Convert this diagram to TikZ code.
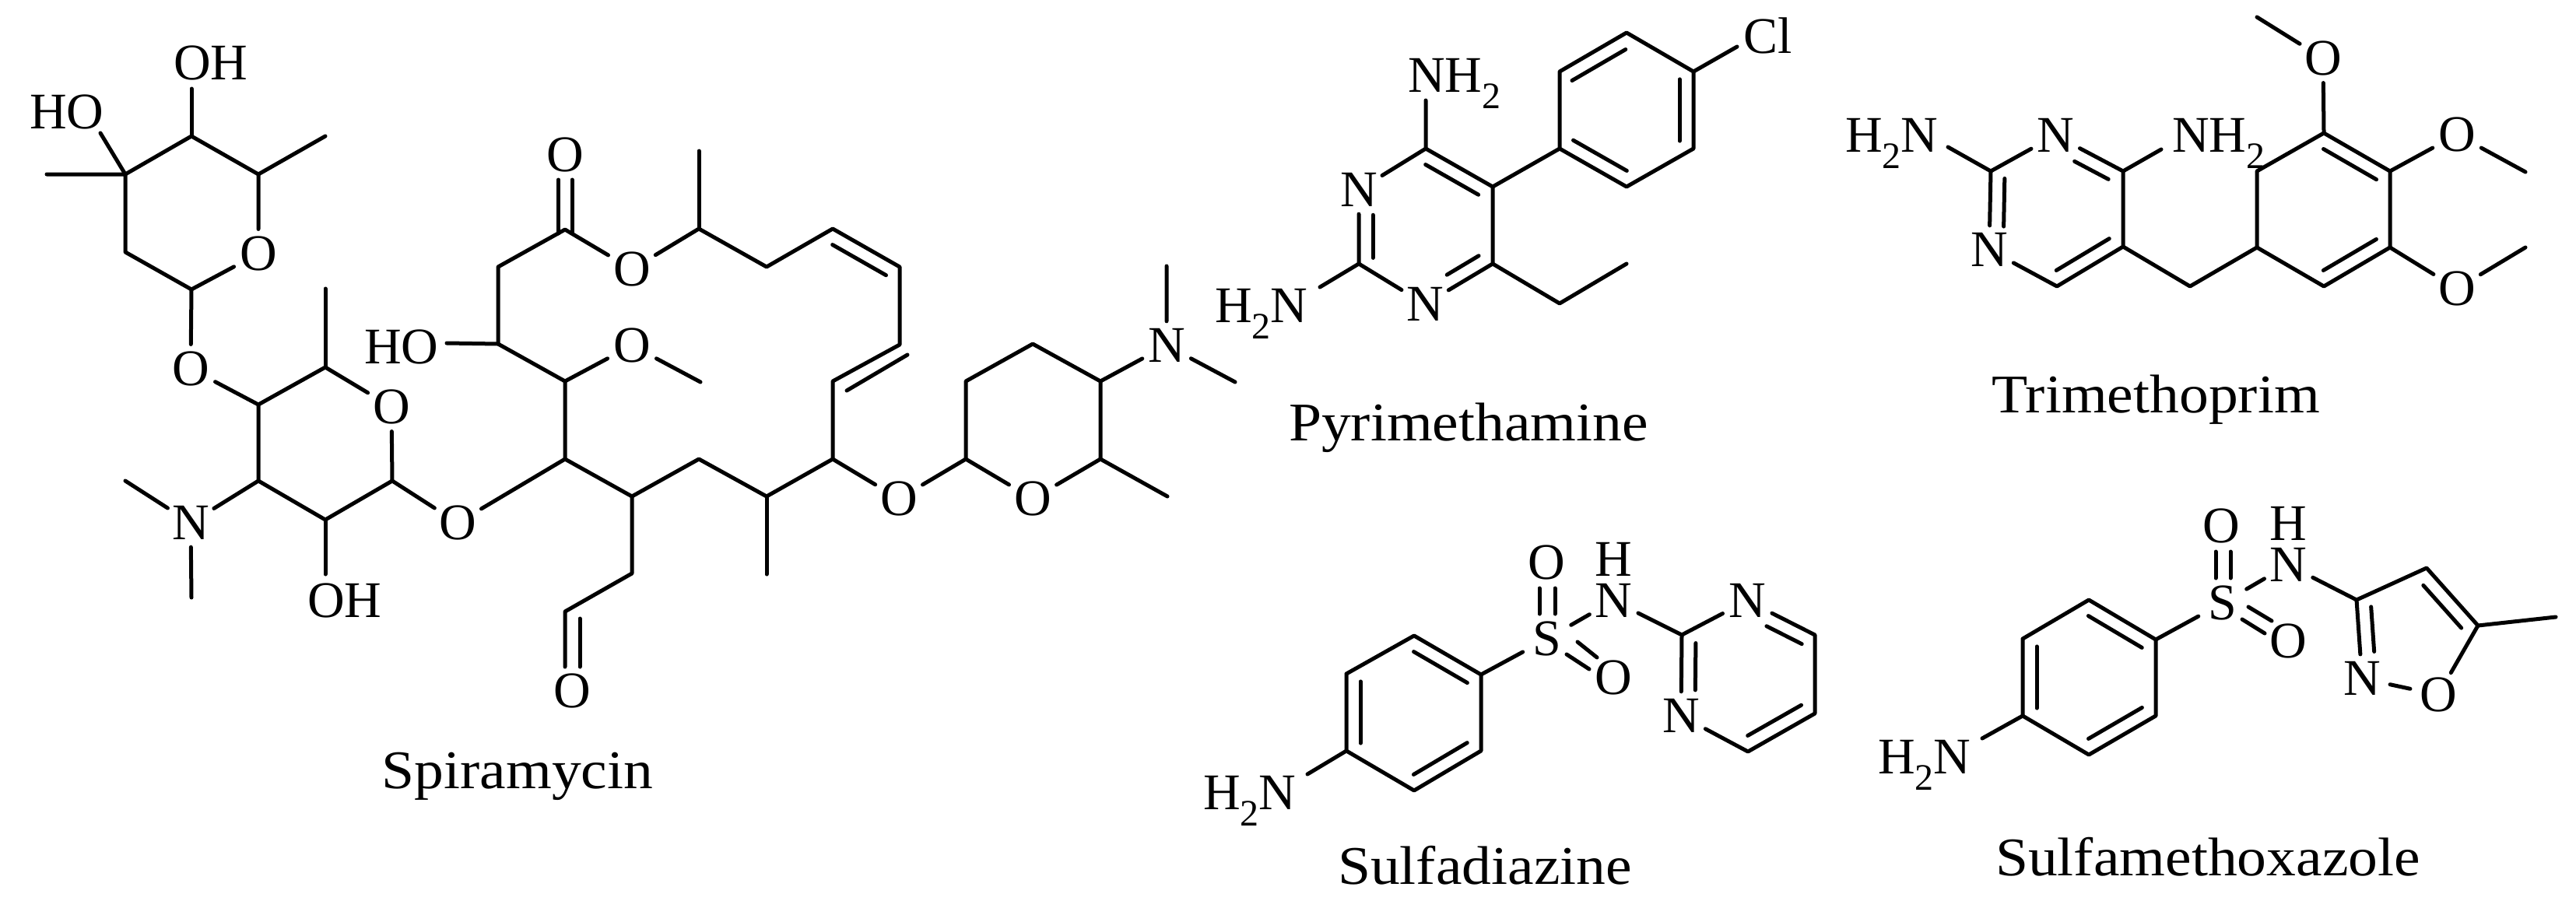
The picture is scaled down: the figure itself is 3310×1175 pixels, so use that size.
\documentclass[tikz,border=0pt]{standalone}
\usepackage{fontspec}
\setmainfont{Liberation Serif}
\newfontfamily\capfam[FakeStretch=1.08]{Liberation Serif}
\usetikzlibrary{calc,shapes.geometric}
\newcommand\atomfont{\fontsize{66}{66}\selectfont}
\newcommand\subtwo{\raisebox{-0.33em}{\fontsize{48}{48}\selectfont 2}}
% inner line of a double bond: from (a) to (b), side angle, start and end fractions
\newcommand\innerbond[5]{\draw[bond] ($(#1)!#4!(#2)!18pt!#3:(#2)$) -- ($(#1)!#5!(#2)!18pt!#3:(#2)$);}
\tikzset{
  bond/.style={line width=5pt,line cap=round,line join=round},
  atom/.style={ellipse,inner sep=0pt,minimum width=74pt,minimum height=62pt,font=\atomfont},
  group/.style={anchor=base west,inner sep=0pt,font=\atomfont},
  caption/.style={anchor=base,inner sep=0pt,font=\capfam\fontsize{70}{70}\selectfont}
}
\begin{document}
\begin{tikzpicture}[x=1pt,y=-1pt]
\useasboundingbox (0,0) rectangle (3310,1175);
% ---------- Spiramycin ----------
\foreach \n/\x/\y in {a1/161/224,a2/246/175,a3/332/224,a5/246/372,a6/161/324,a7/418/175,a8/60/224,
 hoA/129/171,ohA/246/114,b1/332/520,b2/418/472,b2m/418/371,b3/504/618,b4/332/618,b5/418/668,
 m1/161/618,m2/246/768,ohB/418/738,c1/726/590,c2/726/490,c3/640/442,c4/640/343,c5/726/295,
 c6/898/294,c7/985/343,c8/1070/294,c9/1156/343,c10/1156/443,c11/1070/490,c12/1070/590,c13/985/638,
 c14/898/590,c15/812/638,hoB/574/441,m3/900/491,m4/898/194,m5/985/738,d1/812/737,d2/726/786,
 e1/1241/590,e2/1414/590,e3/1414/490,e4/1327/442,e5/1241/490,m6/1500/638,m7/1499/342,m8/1587/491,
 coA/717.5/231,coB/717.5/300,coC/735/231,coD/735/300,alA/726/857,alB/745/795,alC/745/857,
 cdA/1088/502,cdB/1166/456}
 {\coordinate (\n) at (\x,\y);}
\node[atom] (nO1) at (332,326) {O};
\node[atom] (nO2) at (245,474) {O};
\node[atom] (nO3) at (503,523) {O};
\node[atom] (nO5) at (588,672) {O};
\node[atom] (nO6) at (812,346) {O};
\node[atom] (nO7) at (812,444) {O};
\node[atom] (nO8) at (1155,641) {O};
\node[atom] (nO9) at (1327,641) {O};
\node[atom] (nO10) at (726,199) {O};
\node[atom] (nO11) at (735,888) {O};
\node[atom] (nN1) at (245,672) {N};
\node[atom] (nN2) at (1499,444) {N};
\node[group] (gHO1) at (38,165) {HO};
\node[group] (gOH1) at (223,102) {OH};
\node[group] (gHO2) at (468,467) {HO};
\node[group] (gOH2) at (395,793) {OH};
\node[caption] (capS) at (665,1013) {Spiramycin};
\draw[bond] (a8) -- (a1) -- (a2) -- (a3) -- (nO1) -- (a5) -- (a6) -- (a1);
\draw[bond] (a3) -- (a7);
\draw[bond] (a1) -- (hoA);
\draw[bond] (a2) -- (ohA);
\draw[bond] (a5) -- (nO2) -- (b1) -- (b2) -- (nO3) -- (b3) -- (b5) -- (b4) -- (b1);
\draw[bond] (b2) -- (b2m);
\draw[bond] (b4) -- (nN1) -- (m1);
\draw[bond] (nN1) -- (m2);
\draw[bond] (b5) -- (ohB);
\draw[bond] (b3) -- (nO5) -- (c1) -- (c2) -- (c3) -- (c4) -- (c5) -- (nO6) -- (c6) -- (c7) -- (c8) -- (c9) -- (c10) -- (c11) -- (c12) -- (c13) -- (c14) -- (c15) -- (c1);
\draw[bond] (c3) -- (hoB);
\draw[bond] (c2) -- (nO7) -- (m3);
\draw[bond] (c6) -- (m4);
\draw[bond] (c13) -- (m5);
\draw[bond] (c15) -- (d1) -- (d2) -- (alA);
\draw[bond] (alB) -- (alC);
\draw[bond] (coA) -- (coB);
\draw[bond] (coC) -- (coD);
\draw[bond] (c12) -- (nO8) -- (e1) -- (nO9) -- (e2) -- (e3) -- (e4) -- (e5) -- (e1);
\draw[bond] (e2) -- (m6);
\draw[bond] (e3) -- (nN2) -- (m7);
\draw[bond] (nN2) -- (m8);
\draw[bond] (cdA) -- (cdB);
\innerbond{c9}{c8}{90}{.1}{.9}
% ---------- Pyrimethamine ----------
\foreach \n/\x/\y in {p4/1832/191,p5/1918/240,p6/1918/339,p2/1746/339,ph1/2004/191,ph2/2004/92,ph3/2090/42,
 ph4/2176/92,ph5/2176/191,ph6/2090/240,et1/2004/390,et2/2090/339,pA/1832/129,pB/1696/369,pC/2232/60}
 {\coordinate (\n) at (\x,\y);}
\node[atom] (pN1) at (1746,244) {N};
\node[atom] (pN3) at (1831,391) {N};
\node[group] (pNH) at (1809,118) {NH\subtwo};
\node[group] (pHN) at (1561,414) {H\subtwo N};
\node[group] (pCl) at (2240,68) {Cl};
\node[caption] (capP) at (1887,566) {Pyrimethamine};
\draw[bond] (pA) -- (p4) -- (pN1) -- (p2) -- (pN3) -- (p6) -- (p5) -- (p4);
\draw[bond] (p2) -- (pB);
\draw[bond] (p5) -- (ph1) -- (ph2) -- (ph3) -- (ph4) -- (ph5) -- (ph6) -- (ph1);
\draw[bond] (ph4) -- (pC);
\draw[bond] (p6) -- (et1) -- (et2);
\innerbond{p4}{p5}{-90}{.1}{.89}
\innerbond{p6}{pN3}{-90}{.1}{.57}
\innerbond{p2}{pN1}{-90}{.08}{.66}
\innerbond{ph2}{ph3}{-90}{.08}{.88}
\innerbond{ph4}{ph5}{-90}{.1}{.9}
\innerbond{ph6}{ph1}{-90}{.1}{.9}
% ---------- Trimethoprim ----------
\foreach \n/\x/\y in {t2/2558/220,t4/2728/220,t5/2728/317,t6/2643/368,tc/2814/368,r1/2900/318,r2/2900/220,
 r3/2986/171,r4/3071/220,r5/3071/318,r6/2986/368,tA/2503/189,tB/2777/192,tm1/2900/22,tm2/3245/221,tm3/3245/318}
 {\coordinate (\n) at (\x,\y);}
\node[atom] (tN3) at (2641,174) {N};
\node[atom] (tN1) at (2556,321) {N};
\node[atom] (tO1) at (2985,75) {O};
\node[atom] (tO2) at (3157,173) {O};
\node[atom] (tO3) at (3157,371) {O};
\node[group] (tHN) at (2371,195) {H\subtwo N};
\node[group] (tNH) at (2791,195) {NH\subtwo};
\node[caption] (capT) at (2770,530) {Trimethoprim};
\draw[bond] (tA) -- (t2) -- (tN3) -- (t4) -- (t5) -- (t6) -- (tN1) -- (t2);
\draw[bond] (t4) -- (tB);
\draw[bond] (t5) -- (tc) -- (r1) -- (r2) -- (r3) -- (r4) -- (r5) -- (r6) -- (r1);
\draw[bond] (r3) -- (tO1) -- (tm1);
\draw[bond] (r4) -- (tO2) -- (tm2);
\draw[bond] (r5) -- (tO3) -- (tm3);
\innerbond{tN3}{t4}{-90}{.38}{.88}
\innerbond{t5}{t6}{-90}{.1}{.9}
\innerbond{tN1}{t2}{-90}{.3}{.91}
\innerbond{r3}{r4}{-90}{.1}{.9}
\innerbond{r5}{r6}{-90}{.1}{.9}
% ---------- Sulfadiazine ----------
\foreach \n/\x/\y in {d1x/1730/866,d2x/1817/817,d3x/1903/867,d4x/1903/965,d5x/1817/1016,d6x/1730/965,dA/1680/995,
 dc2/2161/816,dc4/2332/816,dc5/2332/917,dc6/2246/966,
 dsA/1978/756,dsB/1978/789,dsC/1998/756,dsD/1998/789,dsE/2027/825,dsF/2052/845,dsG/2013/841,dsH/2042/860}
 {\coordinate (\n) at (\x,\y);}
\node[atom] (dS) at (1988,821) {S};
\node[atom] (dO1) at (1987,723) {O};
\node[atom] (dO2) at (2073,871) {O};
\node[atom] (dN) at (2073,772) {N};
\node[atom] (dH) at (2073,719) {H};
\node[atom] (dN3) at (2245,772) {N};
\node[atom] (dN1) at (2160,920) {N};
\node[group] (dHN) at (1546,1040) {H\subtwo N};
\node[caption] (capD) at (1908,1136) {Sulfadiazine};
\draw[bond] (d1x) -- (d2x) -- (d3x) -- (d4x) -- (d5x) -- (d6x) -- (d1x);
\draw[bond] (d6x) -- (dA);
\draw[bond] (d3x) -- (dS) -- (dN) -- (dc2) -- (dN3) -- (dc4) -- (dc5) -- (dc6) -- (dN1) -- (dc2);
\draw[bond] (dsA) -- (dsB);
\draw[bond] (dsC) -- (dsD);
\draw[bond] (dsE) -- (dsF);
\draw[bond] (dsG) -- (dsH);
\innerbond{d2x}{d3x}{-90}{.1}{.9}
\innerbond{d4x}{d5x}{-90}{.1}{.9}
\innerbond{d6x}{d1x}{-90}{.1}{.9}
\innerbond{dN3}{dc4}{-90}{.38}{.9}
\innerbond{dc5}{dc6}{-90}{.1}{.9}
\innerbond{dN1}{dc2}{-90}{.32}{.9}
% ---------- Sulfamethoxazole ----------
\foreach \n/\x/\y in {m1x/2599/821,m2x/2684/771,m3x/2770/822,m4x/2770/920,m5x/2684/970,m6x/2599/920,mA/2547/949,
 x3/3028/771,x4/3118/730,x5/3184/804,xm/3284/793,
 msA/2847/709,msB/2847/743,msC/2866/709,msD/2866/743,msE/2889/780,msF/2919/798,msG/2881/796,msH/2910/814}
 {\coordinate (\n) at (\x,\y);}
\node[atom] (mS) at (2856,775) {S};
\node[atom] (mO1) at (2854,676) {O};
\node[atom] (mO2) at (2940,824) {O};
\node[atom] (mN) at (2940,726) {N};
\node[atom] (mH) at (2940,673) {H};
\node[atom] (xN) at (3035,872) {N};
\node[atom] (xO) at (3133,893) {O};
\node[group] (mHN) at (2413,994) {H\subtwo N};
\node[caption] (capM) at (2837,1125) {Sulfamethoxazole};
\draw[bond] (m1x) -- (m2x) -- (m3x) -- (m4x) -- (m5x) -- (m6x) -- (m1x);
\draw[bond] (m6x) -- (mA);
\draw[bond] (m3x) -- (mS) -- (mN) -- (x3) -- (x4) -- (x5) -- (xO) -- (xN) -- (x3);
\draw[bond] (x5) -- (xm);
\draw[bond] (msA) -- (msB);
\draw[bond] (msC) -- (msD);
\draw[bond] (msE) -- (msF);
\draw[bond] (msG) -- (msH);
\innerbond{m2x}{m3x}{-90}{.1}{.9}
\innerbond{m4x}{m5x}{-90}{.1}{.9}
\innerbond{m6x}{m1x}{-90}{.1}{.9}
\innerbond{x4}{x5}{-90}{.14}{.88}
\innerbond{xN}{x3}{-90}{.33}{.9}
\end{tikzpicture}
\end{document}
